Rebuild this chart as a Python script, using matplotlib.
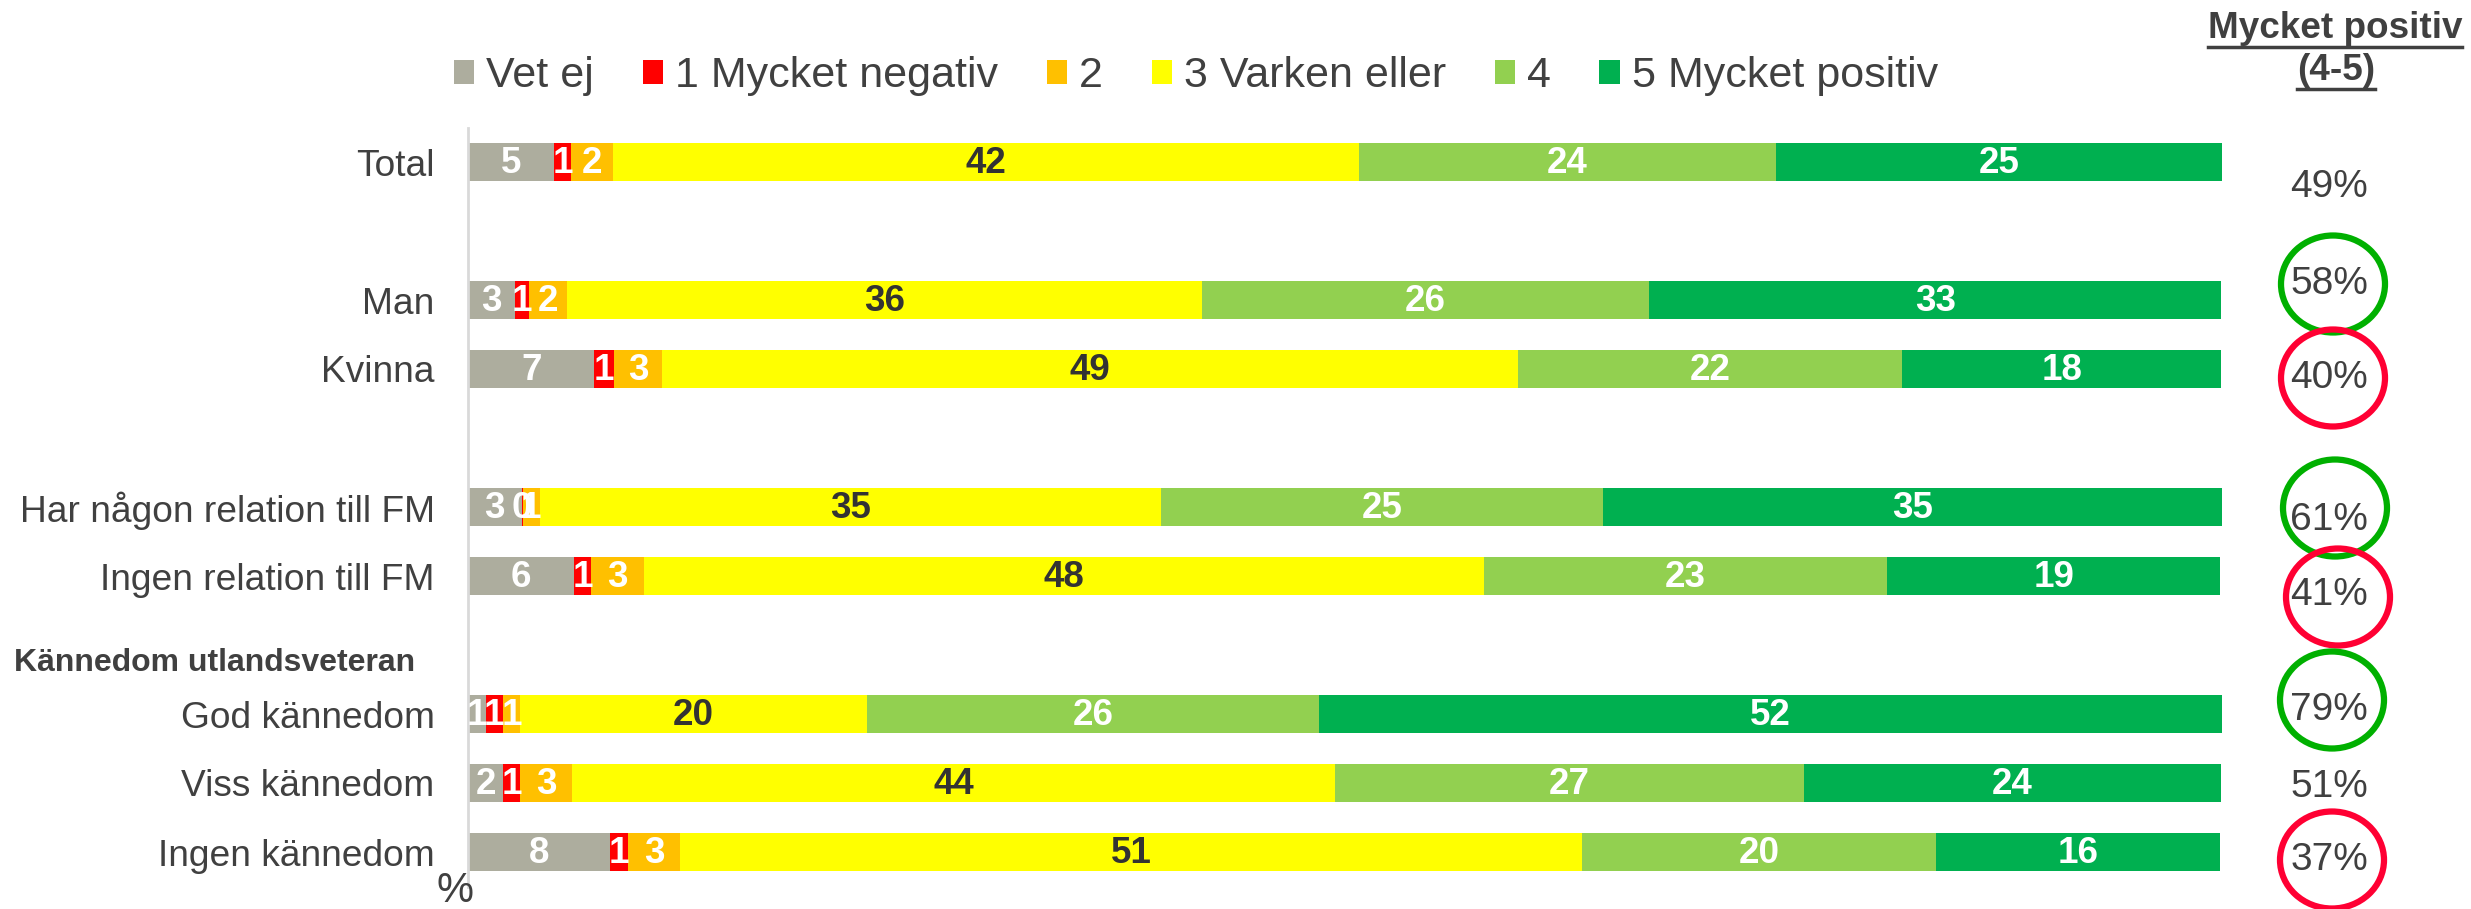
import matplotlib
matplotlib.use('Agg')
import matplotlib.pyplot as plt
from matplotlib.patches import Ellipse
from matplotlib.lines import Line2D

plt.rcParams['font.family'] = ['Liberation Sans', 'DejaVu Sans']

# data (shares in %)
categories = ['Total', 'Man', 'Kvinna', 'Har någon relation till FM', 'Ingen relation till FM',
              'God kännedom', 'Viss kännedom', 'Ingen kännedom']
row_pos = [0, 2, 3, 5, 6, 8, 9, 10]
series_names = ['Vet ej', '1 Mycket negativ', '2', '3 Varken eller', '4', '5 Mycket positiv']
vet_ej = [4.92, 2.7, 7.2, 3.06, 6.04, 1.0, 2.0, 8.1]
neg1 = [0.95, 0.78, 1.14, 0.05, 0.97, 1.0, 0.99, 1.0]
val2 = [2.41, 2.17, 2.72, 0.99, 3.0, 0.97, 2.96, 3.0]
val3 = [42.5, 36.2, 48.8, 35.4, 47.9, 19.75, 43.5, 51.4]
val4 = [23.8, 25.5, 21.9, 25.2, 23.0, 25.8, 26.7, 20.2]
pos5 = [25.4, 32.6, 18.2, 35.3, 19.0, 51.5, 23.8, 16.2]
bar_labels = [
    ['5', '3', '7', '3', '6', '1', '2', '8'],
    ['1', '1', '1', '0', '1', '1', '1', '1'],
    ['2', '2', '3', '1', '3', '1', '3', '3'],
    ['42', '36', '49', '35', '48', '20', '44', '51'],
    ['24', '26', '22', '25', '23', '26', '27', '20'],
    ['25', '33', '18', '35', '19', '52', '24', '16'],
]
top2 = ['49%', '58%', '40%', '61%', '41%', '79%', '51%', '37%']
circle_color = [None, 'green', 'red', 'green', 'red', 'green', None, 'red']

colors = ['#ADAD9E', '#FF0000', '#FFC000', '#FFFF00', '#92D050', '#00B050']
label_colors = ['white', 'white', 'white', '#333333', 'white', 'white']
text_color = '#404040'

# layout in pixels of the 2471x909 picture
W, H = 2471, 909
x0, x100 = 468, 2222
row0_px, row_step = 162, 69
pct_x_px = 2329
pct_y_px = [187, 284, 378, 520, 595, 710, 787, 860]
circ_px = [None, (2333, 284), (2333, 378), (2335, 508), (2338, 597), (2332, 700), None, (2332, 860)]

def px_to_data(xp, yp):
    return (xp - x0) / (x100 - x0) * 100, (yp - row0_px) / row_step

fig = plt.figure(figsize=(W / 100, H / 100), dpi=100)
ax = fig.add_axes([x0 / W, 1 - 886.5 / H, (x100 - x0) / W, (886.5 - 127.5) / H])

series = [vet_ej, neg1, val2, val3, val4, pos5]
left = [0.0] * len(categories)
for s, vals in enumerate(series):
    ax.barh(row_pos, vals, left=left, height=0.54, color=colors[s], label=series_names[s])
    for i, v in enumerate(vals):
        ax.text(left[i] + v / 2, row_pos[i] + 0.02, bar_labels[s][i], ha='center', va='center',
                fontsize=26.5, fontweight='bold', color=label_colors[s])
        left[i] += v

ax.set_xlim(0, 100)
ax.set_ylim(10.5, -0.5)
ax.set_yticks(row_pos)
ax.set_yticklabels(categories, fontsize=26.7, color=text_color)
ax.tick_params(axis='y', length=0, pad=24)
ax.set_xticks([])
for side in ['top', 'right', 'bottom']:
    ax.spines[side].set_visible(False)
ax.spines['left'].set_color('#D9D9D9')
ax.spines['left'].set_linewidth(2)

ax.text(14 / W, 1 - 663 / H, 'Kännedom utlandsveteran', transform=fig.transFigure,
        fontsize=23, fontweight='bold', color=text_color, ha='left', va='center')
ax.text(455 / W, 1 - 891 / H, '%', transform=fig.transFigure, fontsize=30,
        color=text_color, ha='center', va='center')

# top-2 box column
for i, t in enumerate(top2):
    xd, yd = px_to_data(pct_x_px, pct_y_px[i])
    ax.text(xd, yd, t, ha='center', va='center', fontsize=28, color=text_color, clip_on=False)
    if circle_color[i]:
        cx, cy = px_to_data(*circ_px[i])
        col = '#00B000' if circle_color[i] == 'green' else '#FF0033'
        ax.add_patch(Ellipse((cx, cy), 104 / (x100 - x0) * 100, 97 / row_step, fill=False,
                             edgecolor=col, linewidth=4.5, clip_on=False))

h1 = fig.text(2335 / W, 1 - 28 / H, 'Mycket positiv', ha='center', va='center',
              fontsize=26.6, fontweight='bold', color=text_color)
h2 = fig.text(2336 / W, 1 - 70 / H, '(4-5)', ha='center', va='center',
              fontsize=26.6, fontweight='bold', color=text_color)

fig.legend(loc='center', bbox_to_anchor=(1196 / W, 1 - 76 / H), ncol=6, frameon=False,
           fontsize=31, handlelength=0.47, handleheight=0.47, handletextpad=0.28,
           columnspacing=1.13, labelcolor=text_color)

# underline the header
fig.canvas.draw()
r = fig.canvas.get_renderer()
for t in (h1, h2):
    bb = t.get_window_extent(r)
    yl = (bb.y0 - 1) / H
    fig.add_artist(Line2D([bb.x0 / W, bb.x1 / W], [yl, yl], color=text_color, linewidth=2.5))

fig.savefig('out.png', dpi=100)
